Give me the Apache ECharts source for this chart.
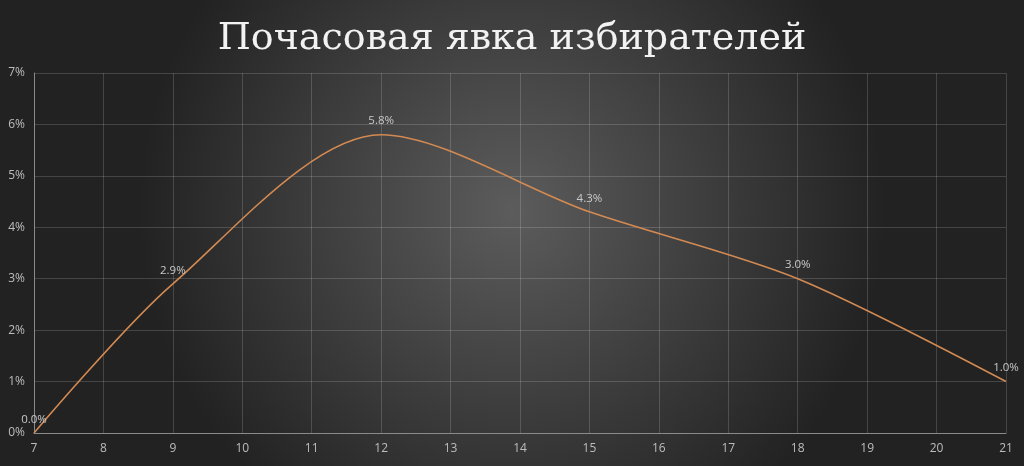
<!DOCTYPE html>
<html><head><meta charset="utf-8">
<script src="https://cdn.jsdelivr.net/npm/echarts@6/dist/echarts.min.js"></script>
<style>html,body{margin:0;padding:0;}#c{width:1024px;height:466px;}</style>
</head><body><div id="c"></div>
<script>
const hours = [7, 9, 12, 15, 18, 21];
const turnout = [0.0, 2.9, 5.8, 4.3, 3.0, 1.0];
const titleText = 'Почасовая явка избирателей';

const chart = echarts.init(document.getElementById('c'));
chart.setOption({
  backgroundColor: {
    type: 'radial', x: 0.5, y: 0.45, r: 0.8,
    colorStops: [{offset: 0, color: '#5c5c5c'}, {offset: 0.55, color: '#3c3c3c'}, {offset: 1, color: '#222222'}]
  },
  title: {
    text: titleText, left: 'center', top: 15,
    textStyle: {color: '#f2f2f2', fontFamily: 'DejaVu Serif', fontSize: 38, fontWeight: 'normal'}
  },
  grid: {left: 34, right: 18, top: 73, bottom: 33},
  xAxis: {
    type: 'value', min: 7, max: 21, interval: 1,
    axisLine: {show: true, lineStyle: {color: '#8a8a8a', width: 1}},
    axisTick: {show: false},
    axisLabel: {color: '#bdbdbd', fontSize: 12, margin: 10, fontFamily: 'Open Sans'},
    splitLine: {show: true, lineStyle: {color: 'rgba(255,255,255,0.16)', width: 1}}
  },
  yAxis: {
    type: 'value', min: 0, max: 7, interval: 1,
    axisLine: {show: true, lineStyle: {color: '#8a8a8a', width: 1}},
    axisTick: {show: false},
    axisLabel: {color: '#bdbdbd', fontSize: 12, margin: 9, fontFamily: 'Open Sans', formatter: '{value}%'},
    splitLine: {show: true, lineStyle: {color: 'rgba(255,255,255,0.16)', width: 1}}
  },
  series: [{
    type: 'line',
    data: hours.map((h, i) => [h, turnout[i]]),
    smooth: 0.3,
    symbol: 'circle',
    symbolSize: 1,
    showSymbol: true,
    itemStyle: {color: 'rgba(0,0,0,0)', borderWidth: 0},
    lineStyle: {color: '#d38a52', width: 1.6},
    label: {
      show: true, position: 'top', distance: 7, color: '#c8c8c8', fontSize: 11.5, fontFamily: 'Open Sans',
      formatter: p => p.value[1].toFixed(1) + '%'
    }
  }]
});
</script></body></html>
